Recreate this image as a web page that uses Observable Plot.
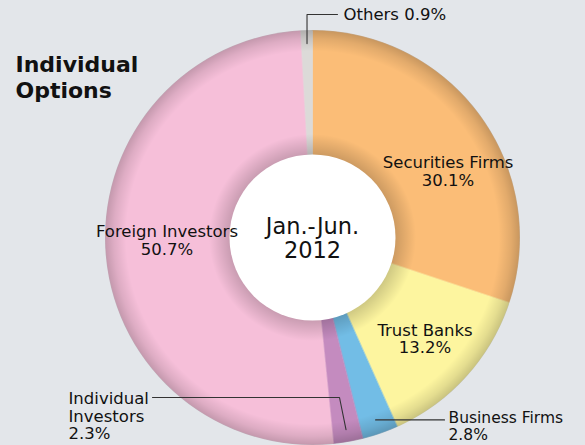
<!DOCTYPE html>
<html>
<head>
<meta charset="utf-8">
<script src="https://cdn.jsdelivr.net/npm/d3@7"></script>
<script src="https://cdn.jsdelivr.net/npm/@observablehq/plot@0.6"></script>
<style>
  html, body { margin: 0; padding: 0; background: #e3e6ea; }
  #chart { width: 585px; height: 445px; overflow: hidden; }
</style>
</head>
<body>
<div id="chart"></div>
<script>
// ---- data ----
const categories = ["Securities Firms", "Trust Banks", "Business Firms", "Individual Investors", "Foreign Investors", "Others"];
const shares = [30.1, 13.2, 2.8, 2.3, 50.7, 0.9];
const labelTexts = ["Securities Firms\n30.1%", "Trust Banks\n13.2%", "Business Firms\n2.8%", "Individual\nInvestors\n2.3%", "Foreign Investors\n50.7%", "Others 0.9%"];
const colors = ["#fbbd77", "#fdf59f", "#72bde6", "#c48bbf", "#f6bfd9", "#dcdad8"];
const title = "Individual\nOptions";
const centerText = "Jan.-Jun.\n2012";

// ---- layout (pixels) ----
const W = 585, H = 445;
const CX = 312, CY = 237;
const R = 207, R0 = 80, RIN = 83;
const font = "DejaVu Sans, sans-serif";
const LABEL_SIZE = 16.5;
const P = (px, py) => ({x: px - CX, y: CY - py}); // pixel -> data

const arcs = d3.pie().sort(null).value(d => d)(shares);
const slices = arcs.map((a, i) => {
  const pts = [];
  const n = Math.max(3, Math.ceil((a.endAngle - a.startAngle) * 180 / Math.PI));
  for (let k = 0; k <= n; k++) {
    const t = a.startAngle + (a.endAngle - a.startAngle) * k / n;
    pts.push({x: R * Math.sin(t), y: R * Math.cos(t)});
  }
  for (let k = n; k >= 0; k--) {
    const t = a.startAngle + (a.endAngle - a.startAngle) * k / n;
    pts.push({x: R0 * Math.sin(t), y: R0 * Math.cos(t)});
  }
  return {cat: categories[i], color: colors[i], pts, mid: (a.startAngle + a.endAngle) / 2};
});
const polar = (ang, r) => ({x: r * Math.sin(ang), y: r * Math.cos(ang)});

// inside labels: anchor at mid-angle on ring, with offsets
const inside = [
  {i: 0, r: 145, dx: 18, dy: 19},
  {i: 1, r: 145, dx: 5, dy: 4},
  {i: 4, r: 145, dx: -1, dy: -9}
].map(o => ({...polar(slices[o.i].mid, o.r), text: labelTexts[o.i], dx: o.dx, dy: o.dy}));

// leader lines
const bStart = polar(slices[2].mid, 193);
const iStart = polar(slices[3].mid, 195);
const oStart = polar(slices[5].mid, 194);
const leaders = [
  [bStart, {x: P(444, 0).x, y: bStart.y}],
  [iStart, P(339, 397), P(152, 397)],
  [oStart, {x: oStart.x, y: P(0, 14).y}, P(337, 14)]
];
const business = [{x: P(448, 0).x, y: bStart.y, text: labelTexts[2]}];
const individual = [{...P(68, 397), text: labelTexts[3]}];
const others = [{...P(343, 14), text: labelTexts[5]}];

const marks = [
  ...slices.map(s => Plot.line(s.pts, {x: "x", y: "y", curve: "linear-closed", fill: s.color, stroke: s.color, strokeWidth: 0.5})),
  Plot.dot([{x: 0, y: 0}], {x: "x", y: "y", r: R + 0.5, fill: "url(#shade)", stroke: "none"}),
  Plot.dot([{x: 0, y: 0}], {x: "x", y: "y", r: RIN, fill: "#ffffff", stroke: "none"}),
  ...leaders.map(l => Plot.line(l, {x: "x", y: "y", stroke: "#333", strokeWidth: 1.1})),
  ...inside.map(t => Plot.text([t], {x: "x", y: "y", text: "text", dx: t.dx, dy: t.dy, fontSize: LABEL_SIZE, lineHeight: 1.08, fill: "#111", fontFamily: font})),
  Plot.text(business, {x: "x", y: "y", text: "text", textAnchor: "start", lineAnchor: "top", fontSize: 15.5, lineHeight: 1.1, fill: "#111", fontFamily: font, dy: -9}),
  Plot.text(individual, {x: "x", y: "y", text: "text", textAnchor: "start", lineAnchor: "top", fontSize: LABEL_SIZE, lineHeight: 1.07, fill: "#111", fontFamily: font, dy: -6}),
  Plot.text(others, {x: "x", y: "y", text: "text", textAnchor: "start", fontSize: LABEL_SIZE, fill: "#111", fontFamily: font}),
  Plot.text([{x: 0, y: 0}], {x: "x", y: "y", text: () => centerText, fontSize: 22.5, lineHeight: 1.07, fill: "#111", fontFamily: font, dy: 1}),
  Plot.text([P(15, 63)], {x: "x", y: "y", text: () => title, textAnchor: "start", lineAnchor: "top", fontSize: 22, fontWeight: "bold", lineHeight: 1.15, fill: "#111", fontFamily: font, dy: -9})
];

const svg = Plot.plot({
  width: W, height: H, margin: 0,
  x: {domain: [-CX, W - CX], axis: null},
  y: {domain: [CY - H, CY], axis: null},
  style: {background: "transparent", overflow: "visible"},
  marks
});
svg.insertAdjacentHTML("afterbegin", `<defs><radialGradient id="shade" gradientUnits="userSpaceOnUse" cx="${CX}" cy="${CY}" r="${R}">
  <stop offset="0.39" stop-color="#000" stop-opacity="0.2"/>
  <stop offset="0.5" stop-color="#000" stop-opacity="0"/>
  <stop offset="0.9" stop-color="#000" stop-opacity="0"/>
  <stop offset="0.96" stop-color="#000" stop-opacity="0.1"/>
  <stop offset="1" stop-color="#000" stop-opacity="0.2"/>
</radialGradient></defs>`);
document.getElementById("chart").appendChild(svg);
</script>
</body>
</html>
